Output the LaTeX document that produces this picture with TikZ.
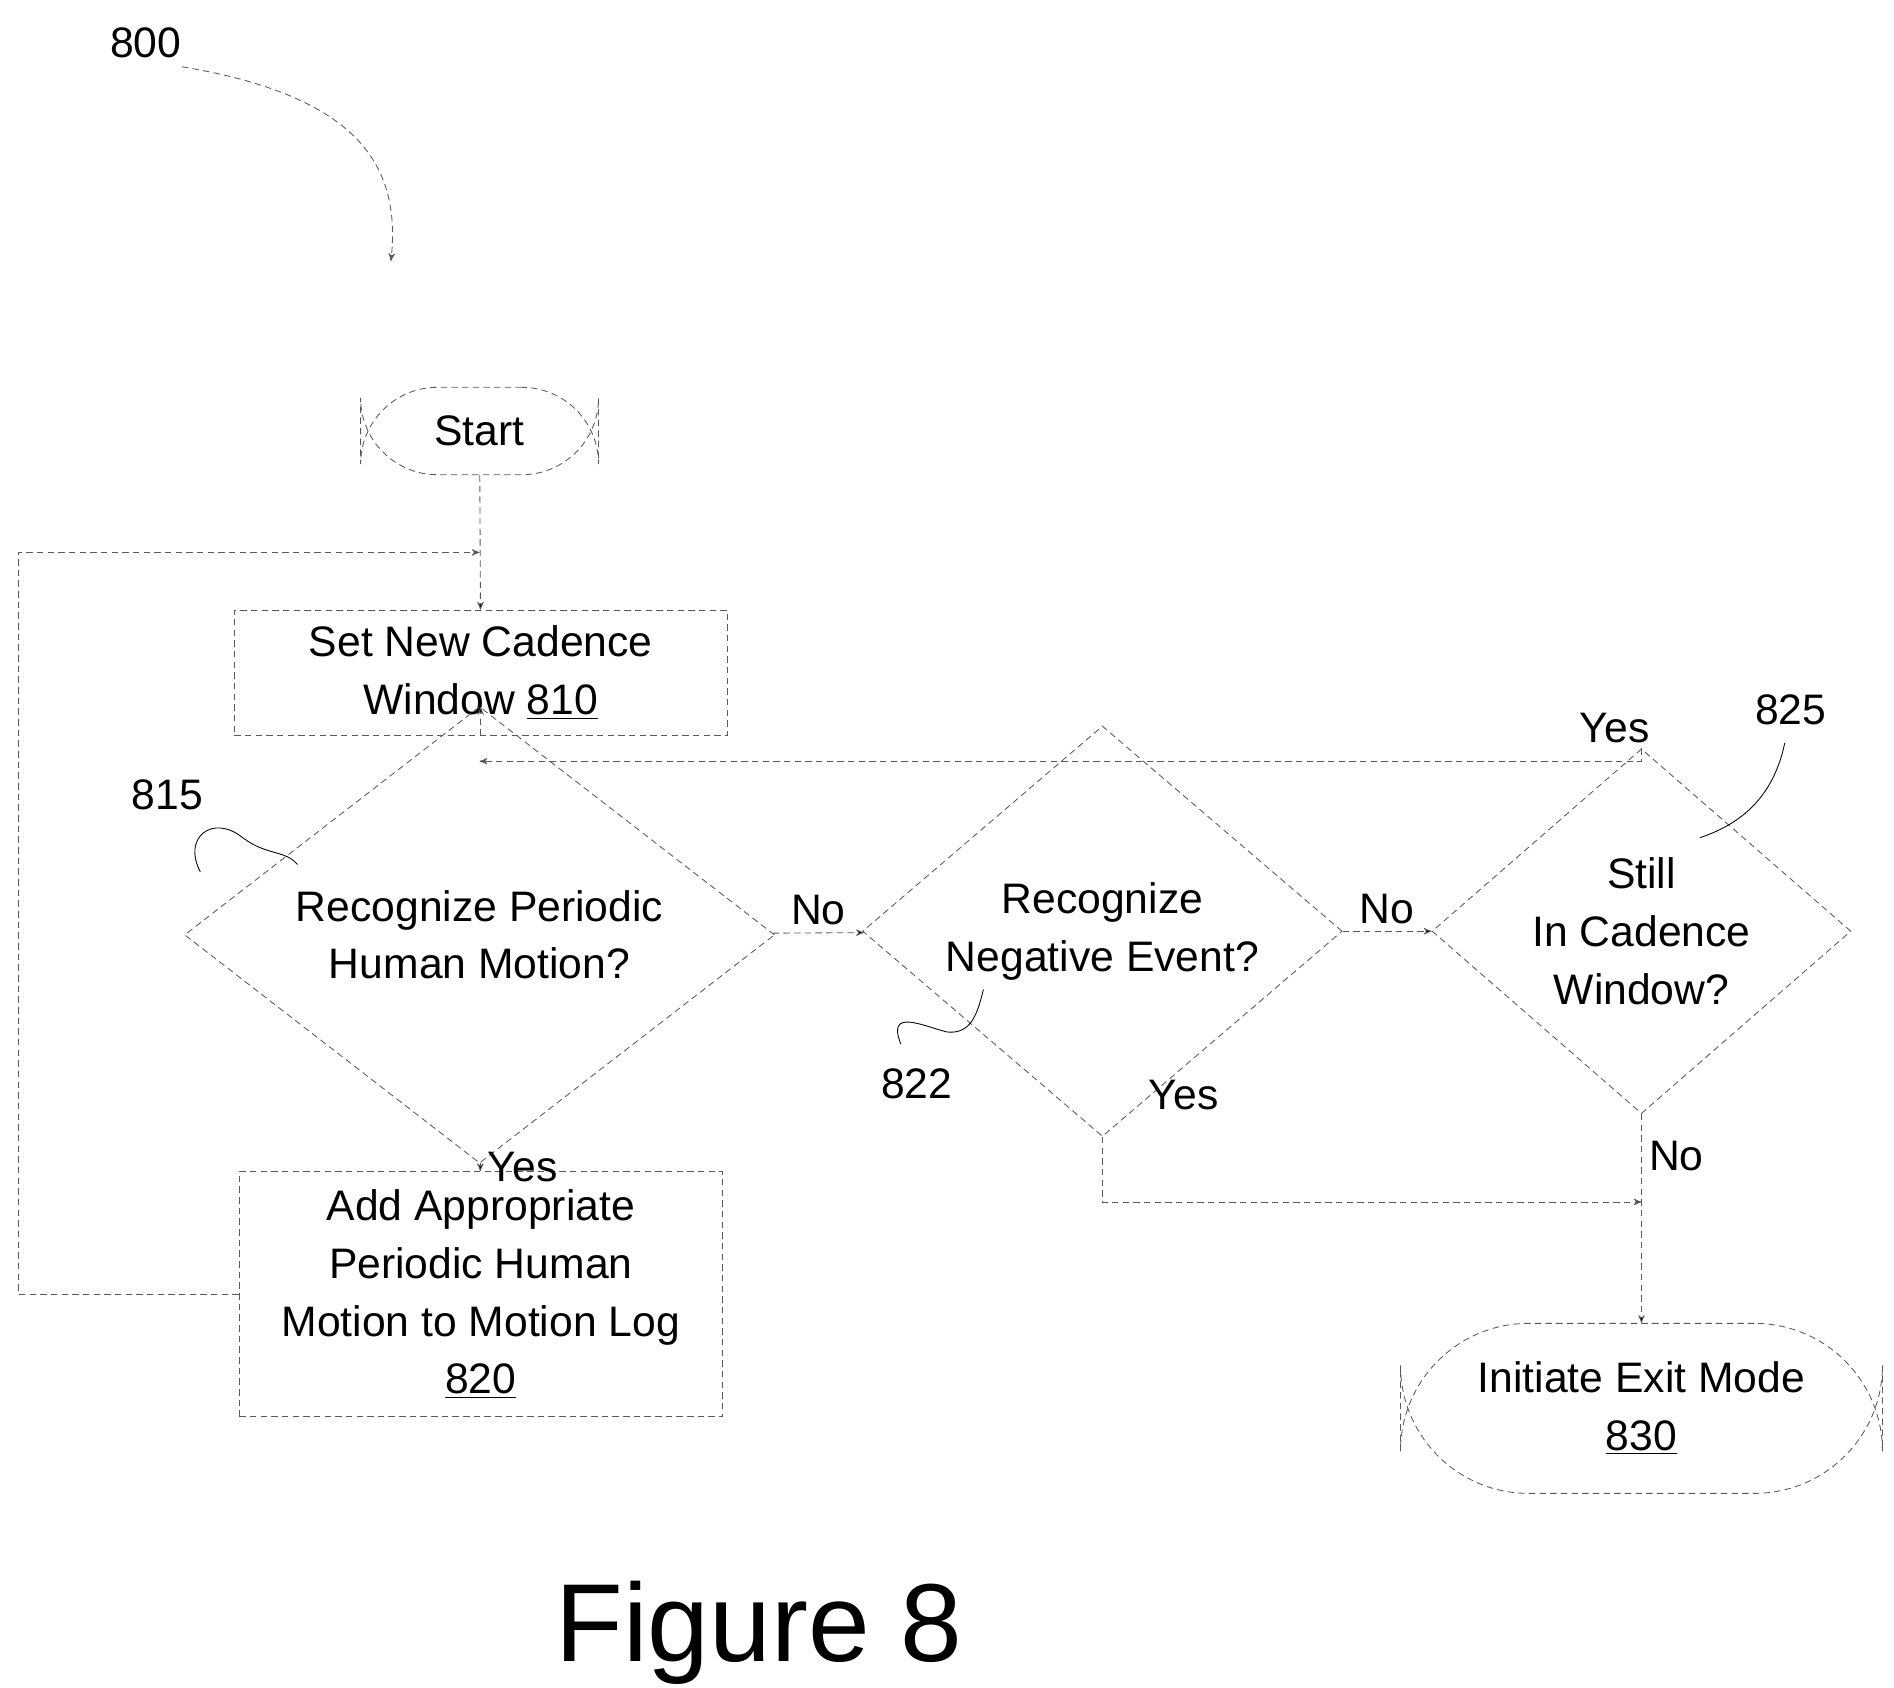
\documentclass[tikz,border=0pt]{standalone}
\usepackage{fontspec}
\setmainfont{Liberation Sans}
\usetikzlibrary{arrows,shapes.geometric}
\begin{document}
\begin{tikzpicture}[x=0.02cm,y=-0.02cm,>=stealth',
  every node/.style={font=\fontsize{20}{27}\selectfont,align=center},
  flow/.style={draw=gray!70!black,densely dashed,thin},
  box/.style={draw=gray!70!black,densely dashed,thin,rectangle,inner sep=0pt},
  term/.style={box,rounded corners=36pt},
  decision/.style={draw=gray!70!black,densely dashed,thin,diamond,inner sep=0pt},
  lbl/.style={font=\fontsize{20}{24}\selectfont}]
  \useasboundingbox (0,0) rectangle (1560,1390);

  \node[term,minimum width=196*0.02cm,minimum height=72*0.02cm] (start) at (395,355) {Start};
  \node[box,minimum width=406*0.02cm,minimum height=103*0.02cm] (w) at (396,554) {Set New Cadence\\Window \underline{810}};
  \node[decision,minimum width=486*0.02cm,minimum height=240*0.02cm] (phm) at (395,770) {Recognize Periodic\\Human Motion?};
  \node[box,minimum width=398*0.02cm,minimum height=202*0.02cm] (log) at (396,1066) {Add Appropriate\\Periodic Human\\Motion to Motion Log\\\underline{820}};
  \node[decision,minimum width=395*0.02cm,minimum height=205*0.02cm] (neg) at (908,767) {Recognize\\Negative Event?};
  \node[decision,minimum width=345*0.02cm,minimum height=203*0.02cm] (still) at (1352,767) {Still\\In Cadence\\Window?};
  \node[term,rounded corners=60pt,minimum width=397*0.02cm,minimum height=140*0.02cm] (exit) at (1352,1160) {Initiate Exit Mode\\\underline{830}};
  \node[font=\fontsize{52}{60}\selectfont] (fig) at (625,1345) {Figure 8};

  \coordinate (loopin) at (395,455);
  \coordinate (backin) at (395,627);
  \coordinate (yesin) at (1352,990);

  \path[flow,->]
    (start) edge (w)
    (w) edge (phm)
    (phm) edge node[lbl,right] {Yes} (log)
    (phm) edge node[lbl,above] {No} (neg)
    (neg) edge node[lbl,above] {No} (still)
    (still) edge node[lbl,pos=0.2,right] {No} (exit);
  \draw[flow,->] (log.west) -- (15,1066) -- (15,455) -- (loopin);
  \draw[flow,->] (still.north) -- (1352,627) -- (backin);
  \draw[flow,->] (neg.south) -- (908,990) -- (yesin);
  \node[lbl] at (1330,600) {Yes};
  \node[lbl] at (975,902) {Yes};

  % reference numerals
  \node[lbl] (n800) at (120,35) {800};
  \draw[flow,->] (150,55) .. controls (300,80) and (330,140) .. (322,215);
  \node[lbl] (n815) at (138,655) {815};
  \draw[thin] (165,718) .. controls (150,690) and (175,670) .. (200,690) .. controls (220,705) and (235,700) .. (245,712);
  \node[lbl] (n822) at (755,893) {822};
  \draw[thin] (742,860) .. controls (730,830) and (760,845) .. (780,850) .. controls (800,852) and (805,835) .. (810,815);
  \node[lbl] (n825) at (1475,585) {825};
  \draw[thin] (1470,612) .. controls (1460,660) and (1430,680) .. (1400,690);
\end{tikzpicture}
\end{document}
